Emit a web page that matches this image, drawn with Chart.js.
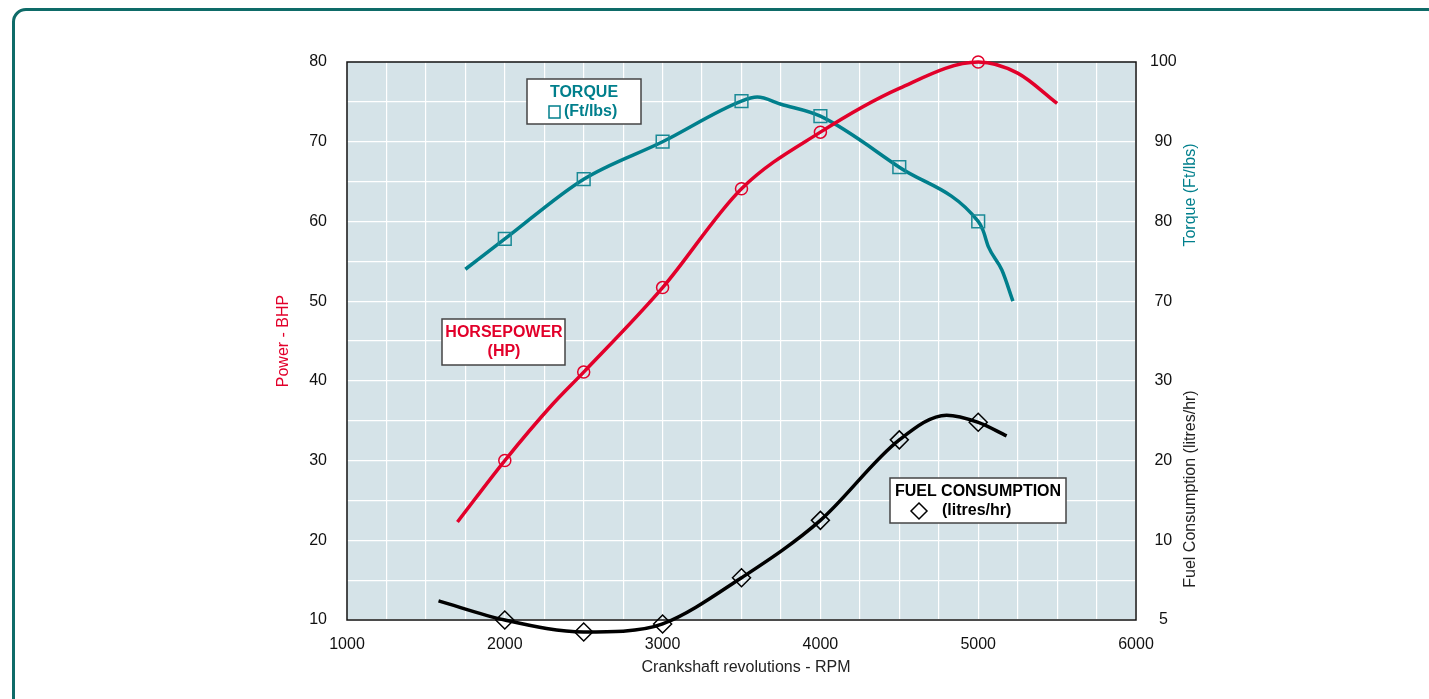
<!DOCTYPE html>
<html>
<head>
<meta charset="utf-8">
<script src="https://cdn.jsdelivr.net/npm/chart.js@4.4.1/dist/chart.umd.min.js"></script>
<style>
  html, body { margin: 0; padding: 0; background: #fff; overflow: hidden; }
  #frame {
    position: absolute; left: 12px; top: 8px; width: 1430px; height: 720px;
    border: 3px solid #0e6b68; border-radius: 14px; box-sizing: border-box;
  }
  #wrap { position: absolute; left: 0; top: 0; width: 1429px; height: 699px; }
</style>
</head>
<body>
<div id="frame"></div>
<div id="wrap"><canvas id="engineChart" width="1429" height="699"></canvas></div>
<script>
// Engine performance curves
const xTicks = [1000, 2000, 3000, 4000, 5000, 6000];
const leftTicks = [10, 20, 30, 40, 50, 60, 70, 80];
const rightTickLabels = ['5', '10', '20', '30', '70', '80', '90', '100'];

// horsepower (BHP)
const hpRpm = [1700, 2000, 2300, 2500, 3000, 3500, 4000, 4500, 5000, 5250, 5500];
const hpValues = [22.3, 30, 37.0, 41.1, 51.7, 64.1, 71.2, 76.7, 80, 78.6, 74.8];
const hpMarkers = [2000, 2500, 3000, 3500, 4000, 5000];

// torque (Ft/lbs)
const torqueRpm = [1750, 2000, 2500, 3000, 3500, 3600, 3750, 4000, 4500, 5000, 5030, 5065, 5150, 5220];
const torqueValues = [74.0, 77.8, 85.3, 90, 95.1, 95.6, 94.7, 93.2, 86.8, 80, 78.9, 76.8, 73.9, 70];
const torqueMarkers = [2000, 2500, 3000, 3500, 4000, 4500, 5000];

// fuel consumption (litres/hr)
const fuelRpm = [1580, 2000, 2500, 2750, 3000, 3500, 4000, 4500, 4800, 5000, 5180];
const fuelValues = [2.4, 0, -1.5, -1.4, -0.5, 5.3, 12.5, 22.6, 25.7, 24.8, 23.1];
const fuelMarkers = [2000, 2500, 3000, 3500, 4000, 4500, 5000];

const RED = '#e2002a';
const TEAL = '#007f8c';
const FONT = '"Liberation Sans", Arial, sans-serif';

function toPoints(xs, ys) {
    return xs.map((x, i) => ({ x: x, y: ys[i] }));
}
function markerSizes(xs, marks, r) {
    return xs.map(x => marks.includes(x) ? r : 0);
}

// plot background, frame and the text boxes
const decorPlugin = {
    id: 'decor',
    beforeDraw(chart) {
        const { ctx, chartArea: a } = chart;
        ctx.save();
        ctx.fillStyle = '#d5e3e8';
        ctx.fillRect(a.left, a.top, a.right - a.left, a.bottom - a.top);
        ctx.restore();
    },
    beforeDatasetsDraw(chart) {
        const { ctx, chartArea: a } = chart;
        ctx.save();
        ctx.strokeStyle = '#111';
        ctx.lineWidth = 1.5;
        ctx.strokeRect(a.left, a.top, a.right - a.left, a.bottom - a.top);
        ctx.restore();
    },
    afterDraw(chart) {
        const ctx = chart.ctx;
        ctx.save();

        // axis titles
        ctx.font = '16px ' + FONT;
        ctx.textAlign = 'center';
        ctx.textBaseline = 'middle';
        ctx.fillStyle = '#222';
        ctx.fillText('Crankshaft revolutions - RPM', 746, 668);

        const vText = (txt, x, y, color) => {
            ctx.save();
            ctx.translate(x, y);
            ctx.rotate(-Math.PI / 2);
            ctx.fillStyle = color;
            ctx.fillText(txt, 0, 0);
            ctx.restore();
        };
        vText('Power - BHP', 284, 341, RED);
        vText('Torque (Ft/lbs)', 1191, 195, TEAL);
        vText('Fuel Consumption (litres/hr)', 1191, 489, '#222');

        const box = (x, y, w, h) => {
            ctx.fillStyle = '#fff';
            ctx.fillRect(x, y, w, h);
            ctx.strokeStyle = '#444';
            ctx.lineWidth = 1.5;
            ctx.strokeRect(x, y, w, h);
        };

        ctx.font = 'bold 16px ' + FONT;

        // torque label
        box(527, 79, 114, 45);
        ctx.fillStyle = TEAL;
        ctx.fillText('TORQUE', 584, 93);
        ctx.textAlign = 'left';
        ctx.fillText('(Ft/lbs)', 564, 112);
        ctx.strokeStyle = TEAL;
        ctx.lineWidth = 1.5;
        ctx.strokeRect(549, 106, 11, 12);

        // horsepower label
        ctx.textAlign = 'center';
        box(442, 319, 123, 46);
        ctx.fillStyle = RED;
        ctx.fillText('HORSEPOWER', 504, 333);
        ctx.fillText('(HP)', 504, 352);

        // fuel label
        box(890, 478, 176, 45);
        ctx.fillStyle = '#000';
        ctx.fillText('FUEL CONSUMPTION', 978, 492);
        ctx.textAlign = 'left';
        ctx.fillText('(litres/hr)', 942, 511);
        ctx.strokeStyle = '#000';
        ctx.lineWidth = 1.5;
        ctx.beginPath();
        ctx.moveTo(919, 503);
        ctx.lineTo(927, 511);
        ctx.lineTo(919, 519);
        ctx.lineTo(911, 511);
        ctx.closePath();
        ctx.stroke();

        ctx.restore();
    }
};

const engineChart = new Chart(document.getElementById('engineChart'), {
    type: 'line',
    data: {
        datasets: [
            {
                label: 'Horsepower',
                data: toPoints(hpRpm, hpValues),
                yAxisID: 'y',
                borderColor: RED,
                borderWidth: 3.5,
                cubicInterpolationMode: 'monotone',
                pointStyle: 'circle',
                pointRadius: markerSizes(hpRpm, hpMarkers, 6),
                pointHoverRadius: 14,
                pointBorderColor: RED,
                pointBorderWidth: 1.5,
                pointBackgroundColor: 'rgba(0,0,0,0)',
                clip: false
            },
            {
                label: 'Torque',
                data: toPoints(torqueRpm, torqueValues),
                yAxisID: 'yTorque',
                borderColor: TEAL,
                borderWidth: 3.5,
                cubicInterpolationMode: 'monotone',
                pointStyle: 'rect',
                pointRadius: markerSizes(torqueRpm, torqueMarkers, 9),
                pointHoverRadius: 14,
                pointBorderColor: '#1a8a96',
                pointBorderWidth: 1.5,
                pointBackgroundColor: 'rgba(0,0,0,0)',
                clip: false
            },
            {
                label: 'Fuel consumption',
                data: toPoints(fuelRpm, fuelValues),
                yAxisID: 'yFuel',
                borderColor: '#000',
                borderWidth: 3.5,
                cubicInterpolationMode: 'monotone',
                pointStyle: 'rectRot',
                pointRadius: markerSizes(fuelRpm, fuelMarkers, 9),
                pointHoverRadius: 16,
                pointBorderColor: '#000',
                pointBorderWidth: 1.5,
                pointBackgroundColor: 'rgba(0,0,0,0)',
                clip: false
            }
        ]
    },
    options: {
        responsive: false,
        animation: false,
        events: [],
        layout: { padding: { top: 62, right: 225, left: 0, bottom: 0 } },
        plugins: { legend: { display: false }, tooltip: { enabled: false } },
        scales: {
            x: {
                type: 'linear',
                min: 1000,
                max: 6000,
                afterFit: s => { s.height = 79; },
                grid: { color: '#ffffff', lineWidth: 1.2, drawTicks: false },
                border: { display: false },
                ticks: {
                    stepSize: 250,
                    autoSkip: false,
                    maxRotation: 0,
                    padding: 15,
                    color: '#111',
                    font: { family: FONT, size: 16 },
                    callback: v => xTicks.includes(v) ? String(v) : ''
                }
            },
            y: {
                position: 'left',
                min: 10,
                max: 80,
                afterFit: s => { s.width = 347; },
                grid: { color: '#ffffff', lineWidth: 1.2, drawTicks: false },
                border: { display: false },
                ticks: {
                    stepSize: 5,
                    autoSkip: false,
                    padding: 20,
                    color: '#111',
                    font: { family: FONT, size: 16 },
                    callback: v => leftTicks.includes(v) ? String(v) : ''
                }
            },
            yRight: {
                position: 'right',
                min: 10,
                max: 80,
                afterFit: s => { s.width = 68; },
                grid: { display: false },
                border: { display: false },
                ticks: {
                    stepSize: 10,
                    autoSkip: false,
                    crossAlign: 'center',
                    padding: 6,
                    color: '#111',
                    font: { family: FONT, size: 16 },
                    callback: (v, i) => rightTickLabels[i]
                }
            },
            yTorque: { display: false, min: 30, max: 100 },
            yFuel: { display: false, min: 0, max: 70 }
        }
    },
    plugins: [decorPlugin]
});
</script>
</body>
</html>
